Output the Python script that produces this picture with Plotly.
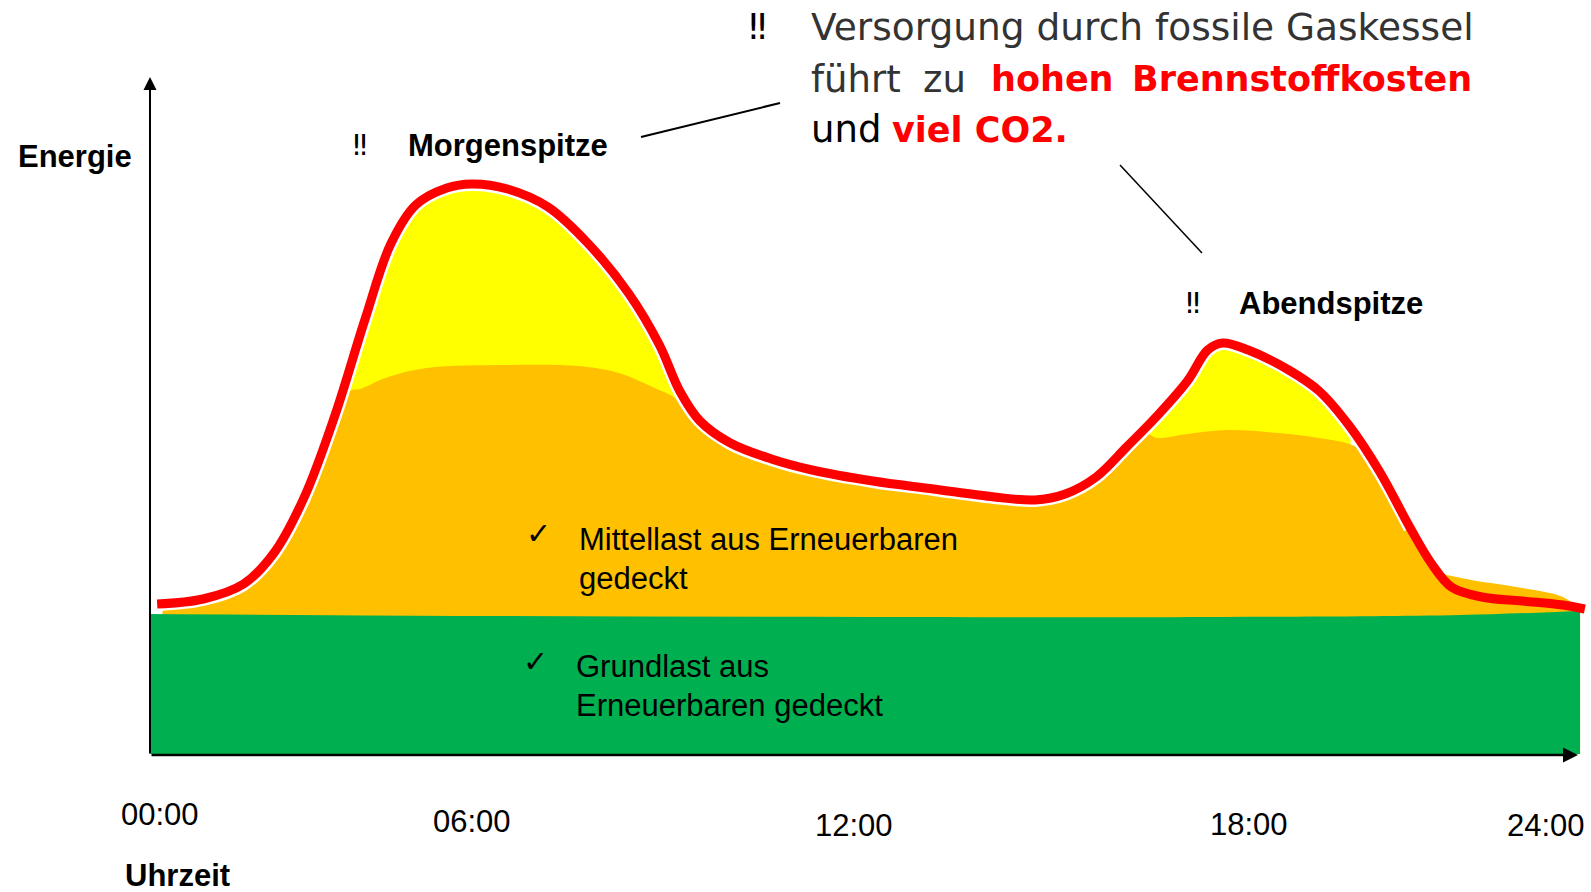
import plotly.graph_objects as go

# ---------------- data (hours of day, energy in arbitrary units) ----------------
demand_h = [0.12, 0.89, 1.57, 2.08, 2.59, 3.10, 3.61, 4.04, 4.46, 4.98, 5.40, 6.00, 6.68,
            7.36, 8.04, 8.55, 8.89, 9.23, 9.74, 10.43, 11.11, 12.13, 13.15, 14.17, 14.85,
            15.36, 15.88, 16.39, 16.90, 17.41, 17.75, 18.00, 18.43, 19.11, 19.62, 20.13,
            20.64, 21.15, 21.50, 21.84, 22.35, 23.03, 23.71, 24.08]
demand_e = [150, 155, 170, 201, 257, 338, 435, 510, 549, 566, 570, 565, 547,
            510, 460, 409, 363, 333, 311, 295, 284, 273, 265, 257, 254,
            260, 277, 307, 338, 373, 404, 411, 404, 384, 363, 328,
            282, 226, 191, 167, 157, 153, 149, 145]

mid_h = [0.21, 0.89, 1.57, 2.08, 2.59, 3.10, 3.36, 3.53, 3.95, 4.64, 6.00, 7.19, 7.87,
         8.47, 8.81, 9.15, 9.74, 10.43, 11.11, 12.13, 13.15, 14.17, 14.85, 15.36, 15.88,
         16.39, 16.73, 16.90, 17.41, 18.09, 18.94, 19.62, 20.13, 20.47, 20.73, 21.15,
         21.58, 22.01, 23.03, 23.71, 24.0]
mid_e = [146, 149, 163, 193, 249, 328, 363, 365, 376, 386, 389, 388, 381,
         366, 356, 333, 305, 290, 279, 268, 260, 252, 249, 255, 272,
         301, 320, 316, 320, 324, 321, 316, 310, 299, 277, 221,
         184, 176, 166, 157, 145]

base_h = [0.0, 6.0, 12.0, 18.0, 22.0, 24.0]
base_e = [140, 138, 137, 137, 139, 143]

peak_am_h = [3.25, 3.61, 4.04, 4.46, 4.98, 5.40, 6.00, 6.68, 7.36, 8.04, 8.55, 8.85]
peak_am_e = [352, 435, 510, 549, 566, 570, 565, 547, 510, 460, 409, 365]
peak_pm_h = [16.60, 16.90, 17.41, 17.75, 18.00, 18.43, 19.11, 19.62, 20.15]
peak_pm_e = [322, 338, 373, 404, 411, 404, 384, 363, 324]

tick_labels = ["00:00", "06:00", "12:00", "18:00", "24:00"]

# ---------------- layout geometry ----------------
W, H = 1591, 892
L, R, T, B = 150, 2, 70, 136
PW, PH = W - L - R, H - T - B


def px(x):
    return (x - L) / PW


def py(y):
    return (H - B - y) / PH


RED, ORANGE, YELLOW, GREEN = "#FF0000", "#FFC000", "#FFFF00", "#00B050"

fig = go.Figure()
for hx, ey in ((peak_am_h, peak_am_e), (peak_pm_h, peak_pm_e)):
    fig.add_trace(go.Scatter(x=hx, y=ey, mode="lines", fill="tozeroy",
                             fillcolor=YELLOW, line=dict(color=YELLOW, width=0, shape="spline"),
                             hoverinfo="skip"))
fig.add_trace(go.Scatter(x=mid_h, y=mid_e, mode="lines", fill="tozeroy", fillcolor=ORANGE,
                         line=dict(color=ORANGE, width=0, shape="spline"), hoverinfo="skip"))
fig.add_trace(go.Scatter(x=base_h, y=base_e, mode="lines", fill="tozeroy", fillcolor=GREEN,
                         line=dict(color=GREEN, width=0, shape="spline"), hoverinfo="skip"))
n_white = 38
fig.add_trace(go.Scatter(x=demand_h[:n_white], y=demand_e[:n_white], mode="lines",
                         line=dict(color="white", width=14, shape="spline"), hoverinfo="skip"))
fig.add_trace(go.Scatter(x=demand_h, y=demand_e, mode="lines",
                         line=dict(color=RED, width=9, shape="spline"), hoverinfo="skip"))

ARIAL = "Liberation Sans, Arial, sans-serif"
HEAD = "DejaVu Sans, sans-serif"
ann = []


def txt(text, x, y, size=31, bold=False, color="black", xanchor="left", family=ARIAL):
    if bold:
        text = "<b>" + text + "</b>"
    ann.append(dict(text=text, x=px(x), y=py(y), xref="paper", yref="paper",
                    xanchor=xanchor, yanchor="middle", showarrow=False,
                    font=dict(size=size, color=color, family=family)))


txt("Energie", 16, 157, bold=True)
txt("Uhrzeit", 123, 876, bold=True)
txt("‼", 360, 145, size=29, xanchor="center", family="DejaVu Sans")
txt("Morgenspitze", 406, 145, bold=True)
txt("‼", 1193, 303, size=29, xanchor="center", family="DejaVu Sans")
txt("Abendspitze", 1237, 303, bold=True)
txt("‼", 757, 26, size=36, xanchor="center", family="DejaVu Sans")

txt("Versorgung durch fossile Gaskessel", 809, 27, size=37.5, color="#333333", family=HEAD)
txt("führt", 809, 79, size=37, color="#333333", family=HEAD)
txt("zu", 921, 79, size=37, color="#333333", family=HEAD)
txt("hohen", 989, 79, size=35, bold=True, color=RED, family=HEAD)
txt("Brennstoffkosten", 1474, 79, size=35, bold=True, color=RED, xanchor="right", family=HEAD)
txt("und", 809, 130, size=37, color="black", family=HEAD)
txt("viel CO2.", 890, 130, size=35, bold=True, color=RED, family=HEAD)

txt("✓", 538, 533, size=30, xanchor="center", family="DejaVu Sans")
txt("Mittellast aus Erneuerbaren", 577, 539)
txt("gedeckt", 577, 578)
txt("✓", 535, 661, size=30, xanchor="center", family="DejaVu Sans")
txt("Grundlast aus", 574, 666)
txt("Erneuerbaren gedeckt", 574, 705)

tick_x = [160, 472, 854, 1249, 1546]
tick_y = [814, 822, 825, 824, 825]
for lab, tx, ty in zip(tick_labels, tick_x, tick_y):
    txt(lab, tx, ty, xanchor="center")

# axis arrows
ann.append(dict(x=px(150), y=py(77), xref="paper", yref="paper", ax=0, ay=678,
                showarrow=True, arrowhead=2, arrowsize=1.3, arrowwidth=2, arrowcolor="black",
                text=""))
ann.append(dict(x=px(1578), y=py(755), xref="paper", yref="paper", ax=-1428, ay=0,
                showarrow=True, arrowhead=2, arrowsize=1.2, arrowwidth=2.5, arrowcolor="black",
                text=""))

shapes = [
    dict(type="line", xref="paper", yref="paper", x0=px(641), y0=py(137), x1=px(780), y1=py(103),
         line=dict(color="black", width=2)),
    dict(type="line", xref="paper", yref="paper", x0=px(1120), y0=py(165), x1=px(1202), y1=py(253),
         line=dict(color="black", width=1.5)),
]

fig.update_layout(
    width=W, height=H, margin=dict(l=L, r=R, t=T, b=B),
    paper_bgcolor="white", plot_bgcolor="white", showlegend=False,
    xaxis=dict(range=[0, 24.15], visible=False, fixedrange=True),
    yaxis=dict(range=[-2, 684], visible=False, fixedrange=True),
    annotations=ann, shapes=shapes,
)

fig.write_html("out.html", config={"displayModeBar": False},
               post_script="document.body.style.margin='0';document.body.style.overflow='hidden';")
